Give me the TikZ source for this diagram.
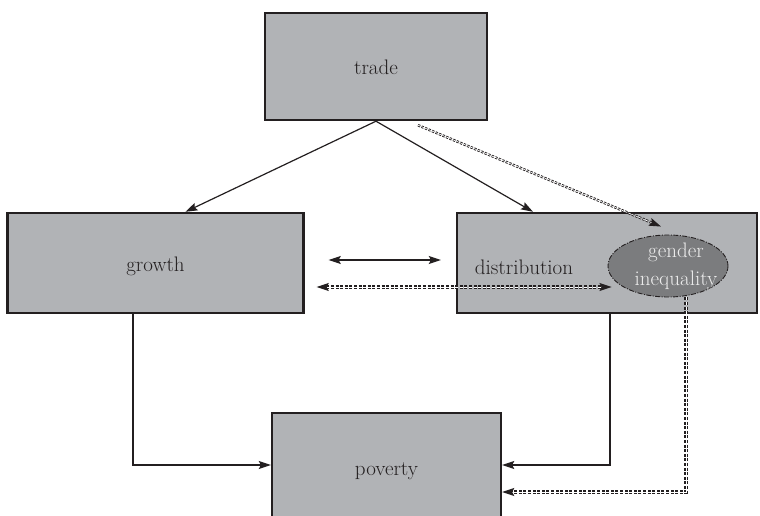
\documentclass[tikz,border=0pt]{standalone}
\usepackage{fontspec}
\usetikzlibrary{arrows.meta,shapes.geometric,calc}
\definecolor{boxgray}{HTML}{B1B3B6}
\definecolor{ink}{HTML}{231F20}
\definecolor{ellgray}{HTML}{7B7C7E}
\definecolor{elltext}{HTML}{ECECEC}
\begin{document}
\begin{tikzpicture}[x=1pt,y=-1pt,
  box/.style={draw=ink,line width=2.4pt,fill=boxgray,minimum width=#1,inner sep=0pt},
  lbl/.style={text=ink,font=\fontsize{21}{24}\selectfont},
  tip/.style={-{Stealth[length=12pt,width=8pt,inset=2pt]}},
  bitip/.style={{Stealth[length=12pt,width=8pt,inset=2pt]}-{Stealth[length=12pt,width=8pt,inset=2pt]}},
  conn/.style={draw=ink,line width=1.2pt},
  dbl/.style={draw=ink,double=white,double distance=0.7pt,line width=0.9pt,dash pattern=on 2.4pt off 1.4pt},
  dblthick/.style={draw=ink,double=white,double distance=0.7pt,line width=1.3pt,dash pattern=on 3pt off 1.6pt}]
\useasboundingbox (0,0) rectangle (760,516);
\node[box=222pt,minimum height=107pt] (trade) at (376,66.5) {};
\node[lbl] (tradetext) at (376,67) {trade};
\node[box=296pt,minimum height=100pt] (growth) at (155.5,263) {};
\node[lbl] (growthtext) at (155.5,266) {growth};
\node[box=300pt,minimum height=100pt] (distribution) at (607,263) {};
\node[lbl] (disttext) at (524,267) {distribution};
\node[draw=ink,line width=0.9pt,dash pattern=on 5pt off 1.5pt on 1pt off 1.5pt,fill=ellgray,ellipse,minimum width=120pt,minimum height=62pt,inner sep=0pt] (gi) at (668,266) {};
\node[text=elltext,align=center,font=\fontsize{21}{28}\selectfont] (gitext) at (676,266) {gender\\inequality};
\node[box=229pt,minimum height=120pt] (poverty) at (386.5,473) {};
\node[lbl] (povertytext) at (386.5,471) {poverty};

\draw[conn,tip] (trade.south) -- ([xshift=30pt]growth.north);
\draw[conn,tip] (trade.south) -- ([xshift=-74pt]distribution.north);
\draw[dbl,tip] ([xshift=42pt,yshift=-4pt]trade.south) -- ([xshift=-7pt,yshift=8pt]gi.north);
\draw[conn,bitip] ([xshift=24pt,yshift=3pt]growth.east) -- ([xshift=-15pt,yshift=3pt]distribution.west);
\draw[dblthick,bitip] ([xshift=12pt,yshift=-24pt]growth.east) -- ([xshift=4pt,yshift=-21pt]gi.west);
\draw[conn,tip] ([xshift=-22.5pt]growth.south) |- ([yshift=8pt]poverty.west);
\draw[conn,tip] ([xshift=3pt]distribution.south) |- ([yshift=8pt]poverty.east);
\draw[dblthick,tip] ([xshift=18pt]gi.south) |- ([yshift=-19pt]poverty.east);
\end{tikzpicture}
\end{document}
